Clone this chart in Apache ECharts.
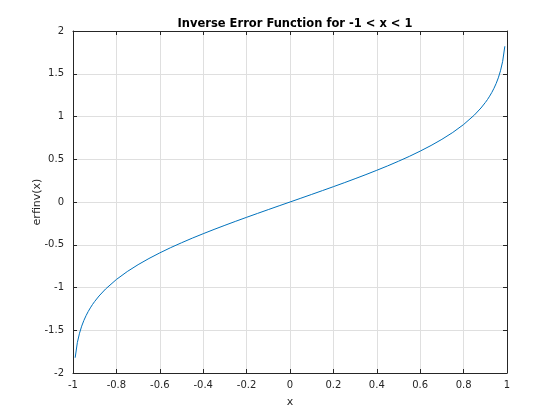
<!DOCTYPE html>
<html>
<head>
<meta charset="utf-8">
<script src="https://cdn.jsdelivr.net/npm/echarts@6/dist/echarts.min.js"></script>
<style>html,body{margin:0;padding:0;background:#fff}#c{width:560px;height:420px}</style>
</head>
<body>
<div id="c"></div>
<script>
const xValues = [-0.99,-0.98,-0.97,-0.96,-0.95,-0.94,-0.93,-0.92,-0.91,-0.9,-0.88,-0.85,-0.8,-0.75,-0.7,-0.65,-0.6,-0.55,-0.5,-0.45,-0.4,-0.35,-0.3,-0.25,-0.2,-0.15,-0.1,-0.05,0,
  0.05,0.1,0.15,0.2,0.25,0.3,0.35,0.4,0.45,0.5,0.55,0.6,0.65,0.7,0.75,0.8,0.85,0.88,0.9,0.91,0.92,0.93,0.94,0.95,0.96,0.97,0.98,0.99];
const yValues = [-1.8214,-1.6450,-1.5351,-1.4522,-1.3859,-1.3299,-1.2812,-1.2379,-1.1984,-1.1631,-1.0994,-1.0179,-0.9062,-0.8134,-0.7329,-0.6609,-0.5951,-0.5338,-0.4769,-0.4225,-0.3708,-0.3208,-0.2725,-0.2253,-0.1791,-0.1338,-0.0889,-0.0443,0,
  0.0443,0.0889,0.1338,0.1791,0.2253,0.2725,0.3208,0.3708,0.4225,0.4769,0.5338,0.5951,0.6609,0.7329,0.8134,0.9062,1.0179,1.0994,1.1631,1.1984,1.2379,1.2812,1.3299,1.3859,1.4522,1.5351,1.6450,1.8214];
const titleText = 'Inverse Error Function for -1 < x < 1';
const xName = 'x';
const yName = 'erfinv(x)';

const font = 'DejaVu Sans';
const axisCol = '#262626';
const chart = echarts.init(document.getElementById('c'), null, {renderer: 'canvas'});
const pts = xValues.map((x, i) => [x, yValues[i]]);
const baseX = {
  type: 'value', min: -1, max: 1, interval: 0.2,
  axisLine: {show: true, onZero: false, lineStyle: {color: axisCol, width: 1}},
  axisTick: {show: true, inside: true, length: 4, lineStyle: {color: axisCol}},
  splitLine: {show: true, lineStyle: {color: '#dfdfdf', width: 1}},
};
const baseY = {
  type: 'value', min: -2, max: 2, interval: 0.5,
  axisLine: {show: true, onZero: false, lineStyle: {color: axisCol, width: 1}},
  axisTick: {show: true, inside: true, length: 4, lineStyle: {color: axisCol}},
  splitLine: {show: true, lineStyle: {color: '#dfdfdf', width: 1}},
};
chart.setOption({
  animation: false,
  backgroundColor: '#fff',
  title: {
    text: titleText, left: 290, top: 13, textAlign: 'center',
    textStyle: {fontFamily: font, fontSize: 11.5, fontWeight: 'bold', color: '#000'}
  },
  grid: {left: 73, top: 31, width: 434, height: 342, containLabel: false},
  xAxis: [
    Object.assign({}, baseX, {
      position: 'bottom',
      name: xName, nameLocation: 'middle', nameGap: 24, nameMoveOverlap: false,
      nameTextStyle: {fontFamily: font, fontSize: 11, color: axisCol},
      axisLabel: {fontFamily: font, fontSize: 10, color: axisCol, margin: 7}
    }),
    Object.assign({}, baseX, {position: 'top', axisLabel: {show: false}, splitLine: {show: false}})
  ],
  yAxis: [
    Object.assign({}, baseY, {
      position: 'left',
      name: yName, nameLocation: 'middle', nameGap: 30, nameRotate: 90, nameMoveOverlap: false,
      nameTextStyle: {fontFamily: font, fontSize: 11, color: axisCol},
      axisLabel: {fontFamily: font, fontSize: 10, color: axisCol, margin: 9}
    }),
    Object.assign({}, baseY, {position: 'right', axisLabel: {show: false}, splitLine: {show: false}})
  ],
  series: [{
    type: 'line', data: pts, xAxisIndex: 0, yAxisIndex: 0,
    showSymbol: false, smooth: false,
    lineStyle: {color: '#0072BD', width: 1}
  }]
});
</script>
</body>
</html>
